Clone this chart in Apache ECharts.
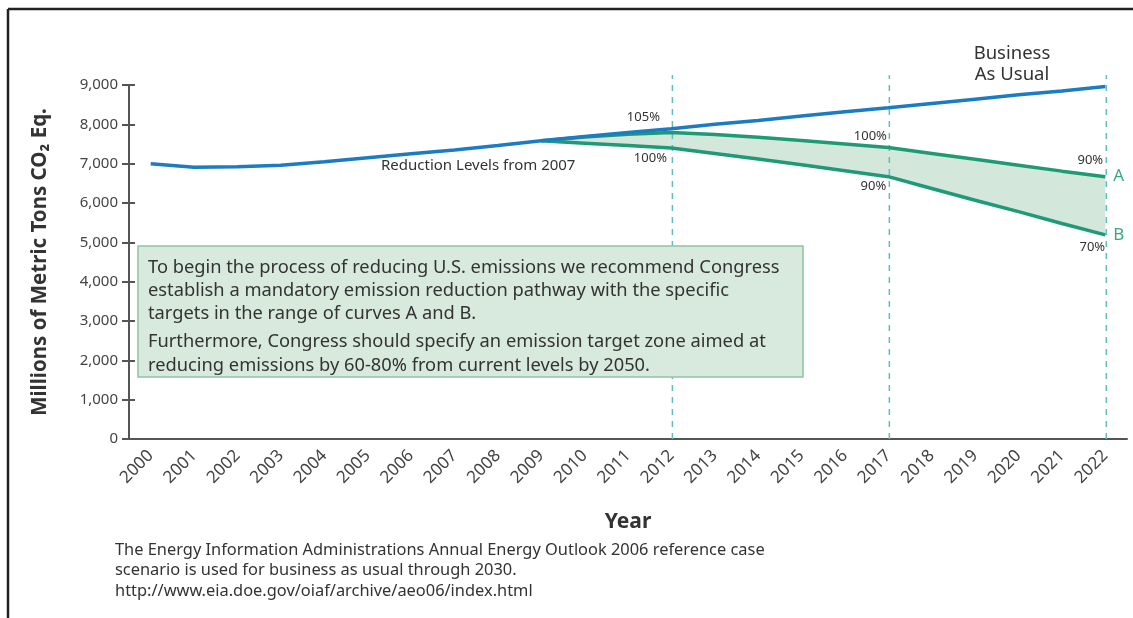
<!DOCTYPE html>
<html>
<head>
<meta charset="utf-8">
<script src="https://cdn.jsdelivr.net/npm/echarts@6/dist/echarts.min.js"></script>
<style>
html,body{margin:0;padding:0;background:#fff;}
#chart{width:1133px;height:618px;}
</style>
</head>
<body>
<div id="chart"></div>
<script>
// ---- data ----
var years = ['2000','2001','2002','2003','2004','2005','2006','2007','2008','2009','2010','2011','2012','2013','2014','2015','2016','2017','2018','2019','2020','2021','2022'];
var businessAsUsual = [7000,6910,6920,6960,7050,7150,7250,7350,7460,7580,7690,7790,7890,8000,8100,8210,8320,8420,8530,8640,8750,8850,8960];
var curveA = [null,null,null,null,null,null,null,null,null,7580,7680,7750,7790,7740,7670,7590,7500,7410,7260,7110,6960,6810,6670];
var curveB = [null,null,null,null,null,null,null,null,null,7580,7520,7460,7400,7260,7120,6970,6820,6670,6370,6070,5780,5480,5190];
var yTicks = [0,1000,2000,3000,4000,5000,6000,7000,8000,9000];
var dashYears = ['2012','2017','2022'];
var dashTop = 9250;
var pctLabelsA = [{year:'2012', text:'105%'},{year:'2017', text:'100%'},{year:'2022', text:'90%'}];
var pctLabelsB = [{year:'2012', text:'100%'},{year:'2017', text:'90%'},{year:'2022', text:'70%'}];

var FONT = 'Noto Sans';
var GREEN = '#1f9a76';
var BLUE = '#1b7cc2';
var AXIS = '#555';

var bandWidth = curveA.map(function(v,i){ return (v==null||curveB[i]==null) ? null : v - curveB[i]; });

function pctMarks(labels, values, offsets){
  return labels.map(function(l, k){
    var idx = years.indexOf(l.year);
    return {
      coord: [l.year, values[idx]],
      symbol: 'circle', symbolSize: 0,
      label: {show:true, formatter: l.text, position:'inside', offset: offsets[k],
        color:'#333', fontSize:13, fontFamily: FONT}
    };
  });
}

var chart = echarts.init(document.getElementById('chart'));
chart.setOption({
  animation: false,
  backgroundColor: '#fff',
  grid: {left:129, right:6, top:85, bottom:179},
  xAxis: {
    type:'category', data: years, boundaryGap: true,
    name:'Year', nameLocation:'middle', nameGap:73,
    nameTextStyle:{fontFamily:FONT, fontWeight:'bold', fontSize:21, color:'#333'},
    axisLine:{lineStyle:{color:AXIS, width:2}},
    axisTick:{inside:true, length:6, lineStyle:{color:AXIS, width:2}},
    axisLabel:{rotate:45, fontFamily:FONT, fontSize:17, color:'#444', margin:14, interval:0},
    splitLine:{show:false}
  },
  yAxis: [{
    type:'value', min:0, max:9000, interval:1000,
    name:'Millions of Metric Tons CO\u2082 Eq.', nameLocation:'middle', nameGap:78,
    nameTextStyle:{fontFamily:FONT, fontWeight:'bold', fontSize:20.5, color:'#333'},
    axisLine:{show:true, lineStyle:{color:AXIS, width:2}},
    axisTick:{show:true, length:7, lineStyle:{color:AXIS, width:2}},
    axisLabel:{fontFamily:FONT, fontSize:15, color:'#444', margin:11,
      formatter:function(v){ return yTicks.indexOf(v) >= 0 ? v.toLocaleString('en-US') : ''; }},
    splitLine:{show:false}
  },{
    type:'value', min:0, max:9000, interval:1000, position:'left',
    axisLine:{show:false},
    axisTick:{show:true, inside:true, length:6, lineStyle:{color:AXIS, width:2}},
    axisLabel:{show:false}, splitLine:{show:false}
  }],
  series: [
    {type:'line', name:'bandBase', data: curveB, stack:'band', symbol:'none',
      lineStyle:{opacity:0}, silent:true, z:1},
    {type:'line', name:'band', data: bandWidth, stack:'band', symbol:'none',
      lineStyle:{opacity:0}, areaStyle:{color:'#d3e8da', opacity:1}, silent:true, z:1},
    {type:'custom', name:'dash', z:2, clip:false,
      data: dashYears.map(function(y){ return [y, dashTop]; }),
      renderItem: function(params, api){
        var p0 = api.coord([api.value(0), 0]);
        var p1 = api.coord([api.value(0), api.value(1)]);
        return {type:'line', shape:{x1:p0[0]+1, y1:p0[1], x2:p1[0]+1, y2:p1[1]},
          style:{stroke:'#5fbcc0', lineWidth:1.5, lineDash:[6,6]}};
      }},
    {type:'line', name:'A', data: curveA, symbol:'none', z:3,
      lineStyle:{color:GREEN, width:3.5},
      endLabel:{show:true, formatter:'A', color:'#3aa886', fontSize:17, fontFamily:FONT, distance:8},
      markPoint:{data: pctMarks(pctLabelsA, curveA, [[-28,-15],[-18,-11],[-15,-16]])}},
    {type:'line', name:'B', data: curveB, symbol:'none', z:3,
      lineStyle:{color:GREEN, width:3.5},
      endLabel:{show:true, formatter:'B', color:'#3aa886', fontSize:17, fontFamily:FONT, distance:8},
      markPoint:{data: pctMarks(pctLabelsB, curveB, [[-21,10],[-15,10],[-13,12]])}},
    {type:'line', name:'Business As Usual', data: businessAsUsual, symbol:'none', z:4,
      lineStyle:{color:BLUE, width:3.5}}
  ],
  graphic: [
    {type:'line', shape:{x1:8, y1:9, x2:1133, y2:9}, style:{stroke:'#222', lineWidth:2.5}, z:10},
    {type:'line', shape:{x1:8, y1:9, x2:8, y2:618}, style:{stroke:'#222', lineWidth:2.5}, z:10},
    {type:'text', x:1012, y:43, z:10,
      style:{text:'Business\nAs Usual', fontFamily:FONT, fontSize:18.5, lineHeight:21, fill:'#333', align:'center'}},
    {type:'text', x:381, y:158, z:10,
      style:{text:'Reduction Levels from 2007', fontFamily:FONT, fontSize:15, fill:'#333'}},
    {type:'rect', shape:{x:138, y:246, width:665, height:131}, z:10,
      style:{fill:'#d8e9de', stroke:'#8ec3a5', lineWidth:1.5}},
    {type:'text', x:148, y:256, z:11,
      style:{text:'To begin the process of reducing U.S. emissions we recommend Congress\nestablish a mandatory emission reduction pathway with the specific\ntargets in the range of curves A and B.',
        fontFamily:FONT, fontSize:18.3, lineHeight:23, fill:'#333'}},
    {type:'text', x:148, y:330, z:11,
      style:{text:'Furthermore, Congress should specify an emission target zone aimed at\nreducing emissions by 60-80% from current levels by 2050.',
        fontFamily:FONT, fontSize:18.3, lineHeight:24, fill:'#333'}},
    {type:'text', x:115, y:540, z:10,
      style:{text:'The Energy Information Administrations Annual Energy Outlook 2006 reference case\nscenario is used for business as usual through 2030.\nhttp://www.eia.doe.gov/oiaf/archive/aeo06/index.html',
        fontFamily:FONT, fontSize:16.4, lineHeight:20.5, fill:'#333'}}
  ]
});
</script>
</body>
</html>
